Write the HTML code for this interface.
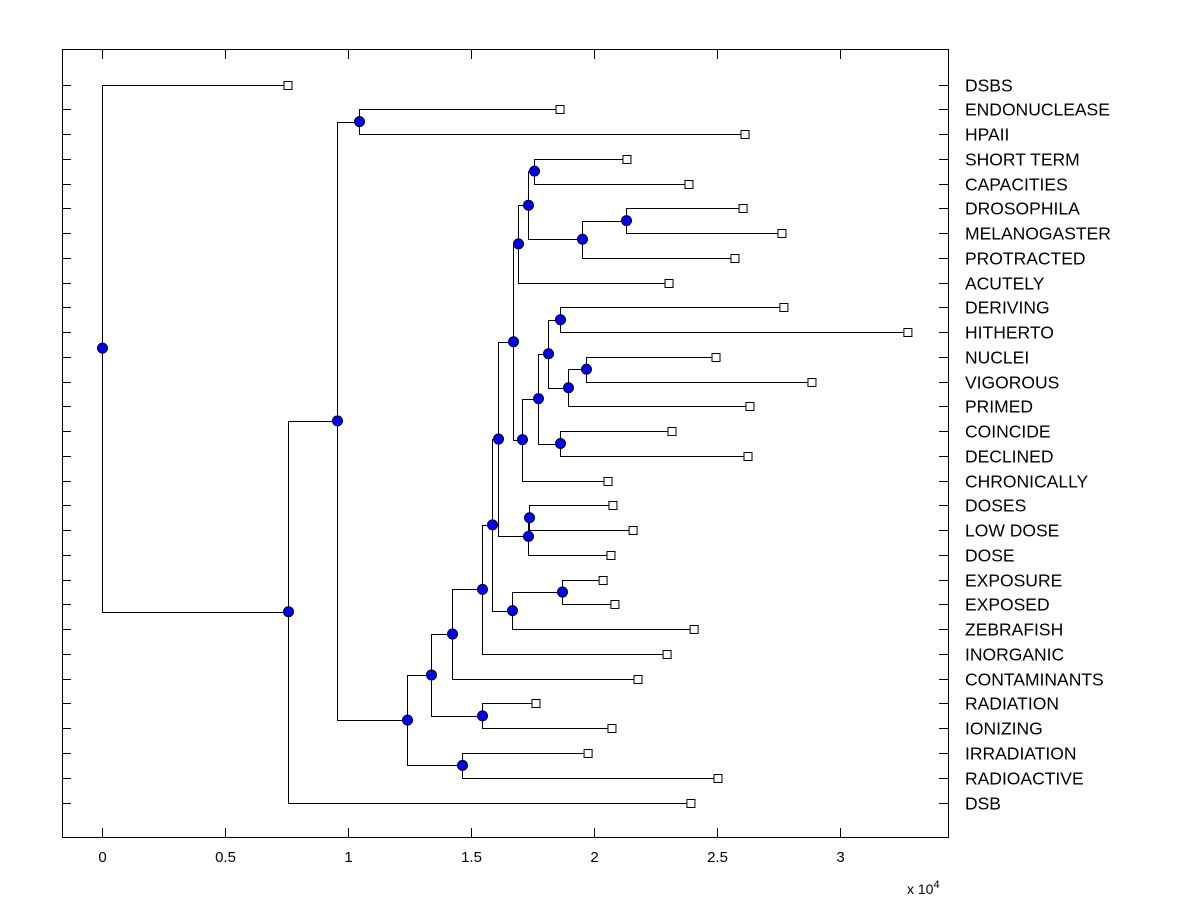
<!DOCTYPE html>
<html><head><meta charset="utf-8"><style>
html,body{margin:0;padding:0;background:#fff;}
svg text{font-family:"Liberation Sans",Arial,sans-serif;}
</style></head>
<body>
<svg id="chart" width="1200" height="900" xmlns="http://www.w3.org/2000/svg">
<rect x="0" y="0" width="1200" height="900" fill="#fff"/>
<rect x="62.5" y="49.5" width="886" height="788" fill="#fff" stroke="#000" stroke-width="1"/>
<g id="ticks"></g>
<g id="tree"></g>
<g id="labels"></g>
<text x="907" y="894" font-size="14">x 10<tspan dy="-6" font-size="11">4</tspan></text>
</svg>
<script>
const leafNames = ["DSBS","ENDONUCLEASE","HPAII","SHORT TERM","CAPACITIES","DROSOPHILA","MELANOGASTER","PROTRACTED","ACUTELY","DERIVING","HITHERTO","NUCLEI","VIGOROUS","PRIMED","COINCIDE","DECLINED","CHRONICALLY","DOSES","LOW DOSE","DOSE","EXPOSURE","EXPOSED","ZEBRAFISH","INORGANIC","CONTAMINANTS","RADIATION","IONIZING","IRRADIATION","RADIOACTIVE","DSB"];
const leafValues = [0.756,1.862,2.614,2.134,2.386,2.606,2.764,2.573,2.305,2.772,3.276,2.496,2.886,2.634,2.317,2.626,2.057,2.077,2.159,2.069,2.037,2.085,2.407,2.297,2.179,1.764,2.073,1.976,2.504,2.394];
const mergeChildren = [
 ["L1","L2"],["L27","L28"],["L25","L26"],["L20","L21"],["N3","L22"],
 ["L17","L18"],["N5","L19"],["L3","L4"],["L5","L6"],["N8","L7"],
 ["N7","N9"],["N10","L8"],["L14","L15"],["L9","L10"],["L11","L12"],
 ["N14","L13"],["N13","N15"],["N16","N12"],["N17","L16"],["N11","N18"],
 ["N19","N6"],["N20","N4"],["N21","L23"],["N22","L24"],["N23","N2"],
 ["N24","N1"],["N0","N25"],["N26","L29"],["L0","N27"]
];
const mergeHeights = [1.044,1.463,1.545,1.870,1.667,1.736,1.732,1.756,2.130,1.951,1.732,1.691,1.862,1.862,1.967,1.894,1.813,1.772,1.707,1.671,1.610,1.585,1.545,1.423,1.337,1.240,0.955,0.756,0.0];
const xTicks = [0,0.5,1,1.5,2,2.5,3];

const X0=102, XS=246, Y0=84.5, YS=(802-84)/29;
const xs = v => X0 + v*XS;
const ys = i => Y0 + i*YS;
const NS="http://www.w3.org/2000/svg";
function mk(tag, attrs, parent){const e=document.createElementNS(NS,tag);for(const k in attrs)e.setAttribute(k,attrs[k]);parent.appendChild(e);return e;}
const tG=document.getElementById('ticks'), trG=document.getElementById('tree'), lG=document.getElementById('labels');

xTicks.forEach(t=>{
  const x=Math.round(xs(t))+0.5;
  const a=mk('line',{x1:x,y1:837,x2:x,y2:828,stroke:'#000'},tG);
  
  
  const b=mk('line',{x1:x,y1:50,x2:x,y2:59,stroke:'#000'},tG);
  
  
  const l=mk('text',{x:x,y:862,'font-size':'15','text-anchor':'middle'},tG);
  l.textContent=String(t);
  
  
});
leafNames.forEach((n,i)=>{
  const y=Math.round(ys(i))+0.5;
  const a=mk('line',{x1:62,y1:y,x2:71,y2:y,stroke:'#000'},tG);
  
  
  const b=mk('line',{x1:939,y1:y,x2:948,y2:y,stroke:'#000'},tG);
  
  
  const l=mk('text',{x:965,y:y+6,'font-size':'17.5'},lG);
  l.textContent=n;
  
  
});

function pos(ref){
  if(ref[0]==='L'){const i=+ref.slice(1);return {x:leafValues[i],y:ys(i)};}
  const j=+ref.slice(1);
  const a=pos(mergeChildren[j][0]), b=pos(mergeChildren[j][1]);
  return {x:mergeHeights[j], y:(a.y+b.y)/2};
}
const nodes=[], leaves=[];
mergeChildren.forEach((ch,j)=>{
  const h=mergeHeights[j], p=pos('N'+j);
  const hx=Math.round(xs(h))+0.5;
  ch.forEach(c=>{
    const q=pos(c);
    const qy=Math.round(q.y)+0.5;
    const path=mk('path',{d:`M${hx},${Math.round(p.y)+0.5} L${hx},${qy} L${xs(q.x)},${qy}`,fill:'none',stroke:'#000','stroke-width':1},trG);
    
    
  });
  nodes.push({x:hx,y:p.y});
});
leafValues.forEach((v,i)=>leaves.push({x:xs(v),y:Math.round(ys(i))+0.5}));
leaves.forEach(p=>{
  const r=mk('rect',{x:p.x-4,y:p.y-4,width:8,height:8,fill:'#fff',stroke:'#000'},trG);
  
  
});
nodes.forEach(p=>{
  const c=mk('circle',{cx:p.x,cy:p.y,r:5,fill:'#0000ff',stroke:'#000022','stroke-width':1},trG);
  
  
});
</script>
</body></html>
